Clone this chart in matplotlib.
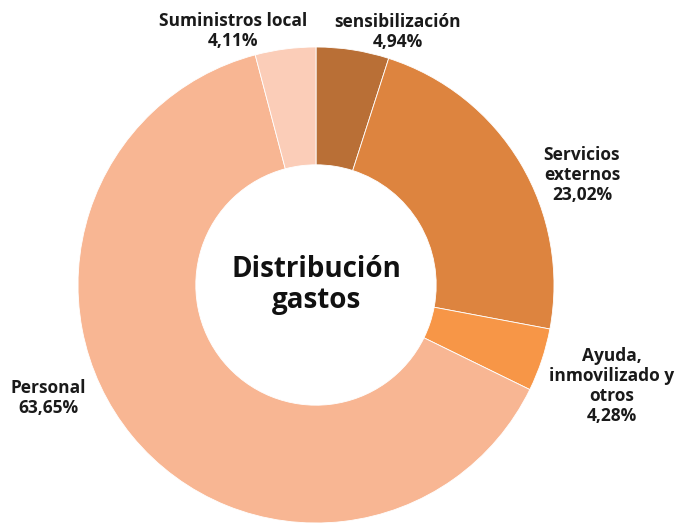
import numpy as np
import matplotlib
matplotlib.use("Agg")
import matplotlib.pyplot as plt

labels = ["sensibilización", "Servicios\nexternos", "Ayuda,\ninmovilizado y\notros", "Personal", "Suministros local"]
values = [4.94, 23.02, 4.28, 63.65, 4.11]
colors = ["#B96F36", "#DD843F", "#F79647", "#F8B693", "#FBCDB8"]

plt.rcParams['font.family'] = ['Open Sans', 'DejaVu Sans']

fig = plt.figure(figsize=(6.82, 5.24), dpi=100)
ax = fig.add_axes([0, 0, 1, 1])

# pixel-like coordinates, y up
cx, cy, r = 316, 239, 238
ax.pie(values, colors=colors, startangle=90, counterclock=False,
       center=(cx, cy), radius=r, frame=True,
       wedgeprops=dict(width=r * 0.495, edgecolor='white', linewidth=0.6))
ax.set_xlim(0, 682)
ax.set_ylim(0, 524)
ax.set_aspect('equal')
ax.axis('off')

# label positions (layout only)
label_pos = [(398, 492), (582, 349), (612, 138), (48, 126), (233, 493)]
for lab, val, (x, y) in zip(labels, values, label_pos):
    txt = lab + "\n" + f"{val:.2f}".replace(".", ",") + "%"
    ax.text(x, y, txt, ha='center', va='center', fontsize=12.5, fontweight='bold',
            color='#1a1a1a', linespacing=1.12)

ax.text(cx, cy, "Distribución\ngastos", ha='center', va='center', fontsize=20,
        fontweight='bold', color='#111111', linespacing=1.08)

fig.savefig("out.png", dpi=100)
